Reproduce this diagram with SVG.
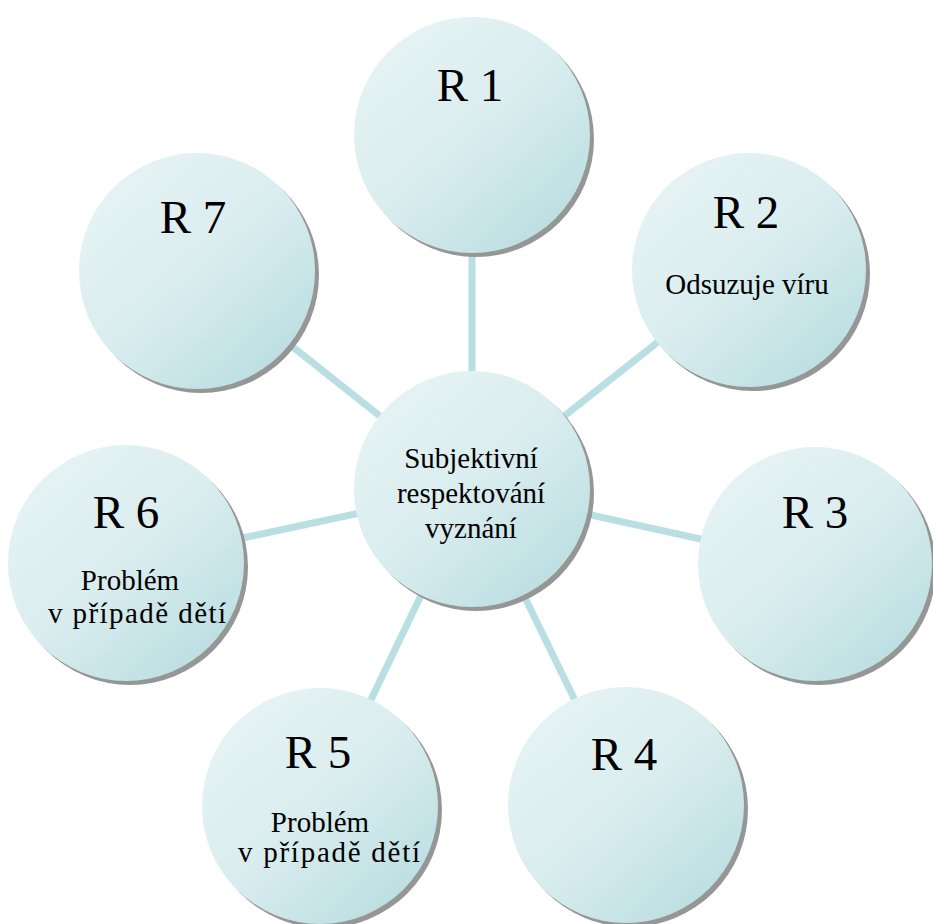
<svg xmlns="http://www.w3.org/2000/svg" width="933" height="924" viewBox="0 0 933 924">
  <defs>
    <linearGradient id="bubbleFill" x1="0.2" y1="0.15" x2="0.85" y2="0.9">
      <stop offset="0" stop-color="#e4f2f3"/>
      <stop offset="0.45" stop-color="#daedef"/>
      <stop offset="1" stop-color="#bcdfe2"/>
    </linearGradient>
    <style>
      .shadow { fill: #969696; }
      .bubble { fill: url(#bubbleFill); }
      .link { stroke: #b9dfe2; stroke-width: 7; fill: none; }
      text { font-family: "Liberation Serif", "Times New Roman", serif; fill: #000; text-anchor: middle; }
      .title { font-size: 47px; }
      .note { font-size: 29px; }
      .hub { font-size: 29px; }
    </style>
  </defs>
  <rect width="933" height="924" fill="#ffffff"/>

  <!-- spokes from the hub to every outer bubble -->
  <g id="connectors">
    <line class="link" x1="472" y1="489" x2="472" y2="135"/>
    <line class="link" x1="472" y1="489" x2="749" y2="270"/>
    <line class="link" x1="472" y1="489" x2="815" y2="564"/>
    <line class="link" x1="472" y1="489" x2="626" y2="805"/>
    <line class="link" x1="472" y1="489" x2="320" y2="806"/>
    <line class="link" x1="472" y1="489" x2="126" y2="563"/>
    <line class="link" x1="472" y1="489" x2="197" y2="271"/>
  </g>

  <g id="hub">
    <circle class="shadow" cx="476" cy="493" r="118"/>
    <circle class="bubble" cx="472" cy="489" r="118"/>
    <text class="hub" x="471" y="468">Subjektivní</text>
    <text class="hub" x="471" y="503">respektování</text>
    <text class="hub" x="471" y="538">vyznání</text>
  </g>

  <g id="r1">
    <circle class="shadow" cx="476" cy="139" r="118"/>
    <circle class="bubble" cx="472" cy="135" r="118"/>
    <text class="title" x="470" y="101">R 1</text>
  </g>

  <g id="r2">
    <circle class="shadow" cx="753" cy="274" r="117"/>
    <circle class="bubble" cx="749" cy="270" r="117"/>
    <text class="title" x="746" y="228">R 2</text>
    <text class="note" x="747" y="294">Odsuzuje víru</text>
  </g>

  <g id="r3">
    <circle class="shadow" cx="819" cy="568" r="117"/>
    <circle class="bubble" cx="815" cy="564" r="117"/>
    <text class="title" x="815" y="528">R 3</text>
  </g>

  <g id="r4">
    <circle class="shadow" cx="630" cy="809" r="118"/>
    <circle class="bubble" cx="626" cy="805" r="118"/>
    <text class="title" x="624" y="770">R 4</text>
  </g>

  <g id="r5">
    <circle class="shadow" cx="324" cy="810" r="118"/>
    <circle class="bubble" cx="320" cy="806" r="118"/>
    <text class="title" x="318" y="768">R 5</text>
    <text class="note" x="320" y="832">Problém</text>
    <text class="note" x="329" y="862" textLength="182" lengthAdjust="spacing">v případě dětí</text>
  </g>

  <g id="r6">
    <circle class="shadow" cx="130" cy="567" r="118"/>
    <circle class="bubble" cx="126" cy="563" r="118"/>
    <text class="title" x="126" y="528">R 6</text>
    <text class="note" x="130" y="590">Problém</text>
    <text class="note" x="137" y="623" textLength="178" lengthAdjust="spacing">v případě dětí</text>
  </g>

  <g id="r7">
    <circle class="shadow" cx="201" cy="275" r="118"/>
    <circle class="bubble" cx="197" cy="271" r="118"/>
    <text class="title" x="193" y="233">R 7</text>
  </g>
</svg>
